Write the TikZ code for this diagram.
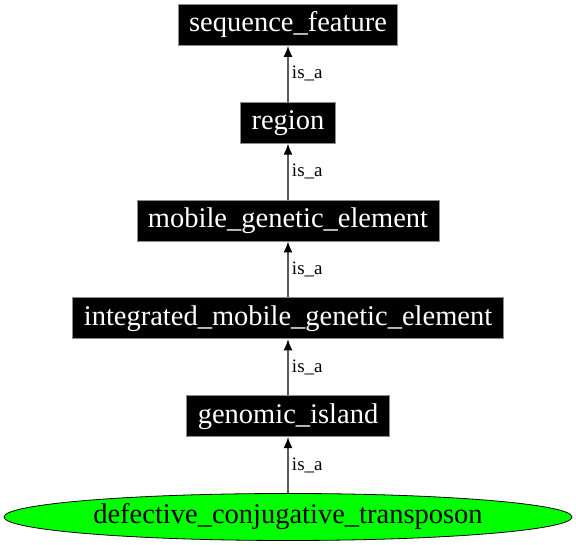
\documentclass[tikz,border=0pt]{standalone}
\usepackage{fontspec}
\setmainfont{Liberation Serif}
\usepackage{tikz}
\usetikzlibrary{shapes.geometric}
\usetikzlibrary{positioning}
\usetikzlibrary{arrows.meta}

\begin{document}
\begin{tikzpicture}[
                node distance=56pt,
                termbox/.style={
                        draw=black!45,
                        line width=0.8pt,
                        fill=black,
                        text=white,
                        rectangle,
                        inner xsep=11pt,
                        minimum height=41pt,
                        font=\fontsize{28.5}{32}\selectfont
                    },
                leafnode/.style={
                        draw=black,
                        line width=0.8pt,
                        fill=green,
                        ellipse,
                        inner sep=0pt,
                        minimum width=568pt,
                        minimum height=47pt,
                        font=\fontsize{28.5}{32}\selectfont
                    },
                isa/.style={
                        draw=black!65,
                        line width=1.3pt,
                        -{Latex[length=11pt,width=9pt,black]}
                    },
                edgelabel/.style={
                        font=\fontsize{19}{22}\selectfont,
                        right
                    }
            ]

            \useasboundingbox (0,0) rectangle (576pt,545pt);

            % Nodes from the bottom up
            \node[leafnode] (dct) at (288pt,28pt) {defective\_conjugative\_transposon};
            \node[termbox, above=of dct] (gi) {genomic\_island};
            \node[termbox, above=of gi] (imge) {integrated\_mobile\_genetic\_element};
            \node[termbox, above=of imge] (mge) {mobile\_genetic\_element};
            \node[termbox, above=of mge] (reg) {region};
            \node[termbox, above=of reg] (sf) {sequence\_feature};

            % is_a edges
            \draw[isa] (dct) -- (gi) node[midway, edgelabel] {is\_a};
            \draw[isa] (gi) -- (imge) node[midway, edgelabel] {is\_a};
            \draw[isa] (imge) -- (mge) node[midway, edgelabel] {is\_a};
            \draw[isa] (mge) -- (reg) node[midway, edgelabel] {is\_a};
            \draw[isa] (reg) -- (sf) node[midway, edgelabel] {is\_a};

        \end{tikzpicture}
\end{document}
